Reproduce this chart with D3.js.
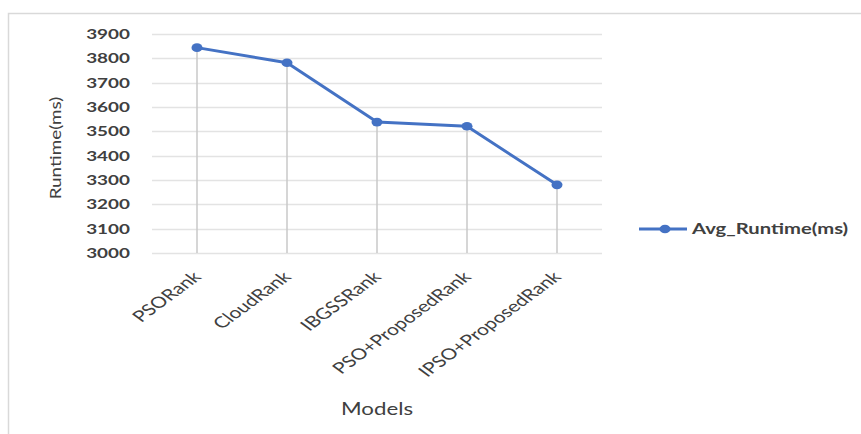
<!DOCTYPE html>
<html>
<head>
<meta charset="utf-8">
<script src="https://cdn.jsdelivr.net/npm/d3@7"></script>
<style>
  html, body { margin: 0; padding: 0; background: #fff; }
  svg { display: block; }
</style>
</head>
<body>
<svg id="chart" width="861" height="434"></svg>
<script>
// Average runtime per ranking model
const models = ["PSORank", "CloudRank", "IBGSSRank", "PSO+ProposedRank", "IPSO+ProposedRank"];
const avgRuntime = [3844, 3782, 3538, 3521, 3280];
const yTicks = [3000, 3100, 3200, 3300, 3400, 3500, 3600, 3700, 3800, 3900];
const seriesName = "Avg_Runtime(ms)";

const svg = d3.select("#chart");
const W = 861, H = 434;
const plot = { left: 152, right: 602, top: 34, bottom: 253 };
const blue = "#4472C4";
const ink = "#404040";
const font = "Lato, 'Open Sans', sans-serif";
const sx = 1.35; // horizontal stretch of the text and markers

// chart frame
svg.append("rect")
  .attr("x", 8.5).attr("y", 13.5)
  .attr("width", W + 10).attr("height", H + 10)
  .attr("fill", "#fff").attr("stroke", "#d9d9d9").attr("stroke-width", 1.5);

const x = d3.scaleBand().domain(models).range([plot.left, plot.right]);
const y = d3.scaleLinear().domain([3000, 3900]).range([plot.bottom, plot.top]);
const cx = d => x(d) + x.bandwidth() / 2;

// horizontal gridlines
svg.append("g")
  .selectAll("line").data(yTicks).join("line")
  .attr("x1", plot.left).attr("x2", plot.right)
  .attr("y1", d => Math.round(y(d)) + 0.5).attr("y2", d => Math.round(y(d)) + 0.5)
  .attr("stroke", "#e3e3e3").attr("stroke-width", 1.5);

// y axis labels
svg.append("g")
  .selectAll("text").data(yTicks).join("text")
  .attr("transform", d => `translate(${plot.left - 22},${y(d)}) scale(${sx},1)`)
  .attr("text-anchor", "end").attr("dy", "0.35em")
  .attr("font-family", font).attr("font-size", 14).attr("font-weight", 700)
  .attr("fill", ink)
  .text(d => d3.format("d")(d));

// drop lines from each point to the base
svg.append("g")
  .selectAll("line").data(models).join("line")
  .attr("x1", d => cx(d)).attr("x2", d => cx(d))
  .attr("y1", (d, i) => y(avgRuntime[i])).attr("y2", plot.bottom)
  .attr("stroke", "#c8c8c8").attr("stroke-width", 1.5);

// x axis labels, rotated
svg.append("g")
  .selectAll("text").data(models).join("text")
  .attr("transform", d => `translate(${cx(d)},${plot.bottom + 21}) scale(${sx},1) rotate(-45)`)
  .attr("text-anchor", "end").attr("dy", "0.35em")
  .attr("font-family", font).attr("font-size", 15.5)
  .attr("fill", ink)
  .text(d => d);

// series line and markers
const pts = models.map((m, i) => [cx(m), y(avgRuntime[i])]);
svg.append("path")
  .attr("d", d3.line()(pts))
  .attr("fill", "none").attr("stroke", blue).attr("stroke-width", 3)
  .attr("stroke-linejoin", "round");
svg.append("g")
  .selectAll("ellipse").data(pts).join("ellipse")
  .attr("cx", d => d[0]).attr("cy", d => d[1]).attr("rx", 5.5).attr("ry", 4.3)
  .attr("fill", blue);

// axis titles
svg.append("text")
  .attr("transform", `translate(61,148) scale(1,1.26) rotate(-90)`)
  .attr("text-anchor", "middle")
  .attr("font-family", font).attr("font-size", 15).attr("fill", ink)
  .text("Runtime(ms)");
svg.append("text")
  .attr("transform", `translate(377,415) scale(${sx},1)`)
  .attr("text-anchor", "middle")
  .attr("font-family", font).attr("font-size", 16.5).attr("fill", ink)
  .text("Models");

// legend
const lg = svg.append("g").attr("transform", "translate(639,229)");
lg.append("line").attr("x1", 0).attr("x2", 48).attr("y1", 0).attr("y2", 0)
  .attr("stroke", blue).attr("stroke-width", 3);
lg.append("ellipse").attr("cx", 26).attr("cy", 0).attr("rx", 5.5).attr("ry", 4.3).attr("fill", blue);
lg.append("text")
  .attr("transform", `translate(53,0) scale(${sx},1)`)
  .attr("dy", "0.35em")
  .attr("font-family", font).attr("font-size", 15).attr("font-weight", 700)
  .attr("fill", ink)
  .text(seriesName);
</script>
</body>
</html>
